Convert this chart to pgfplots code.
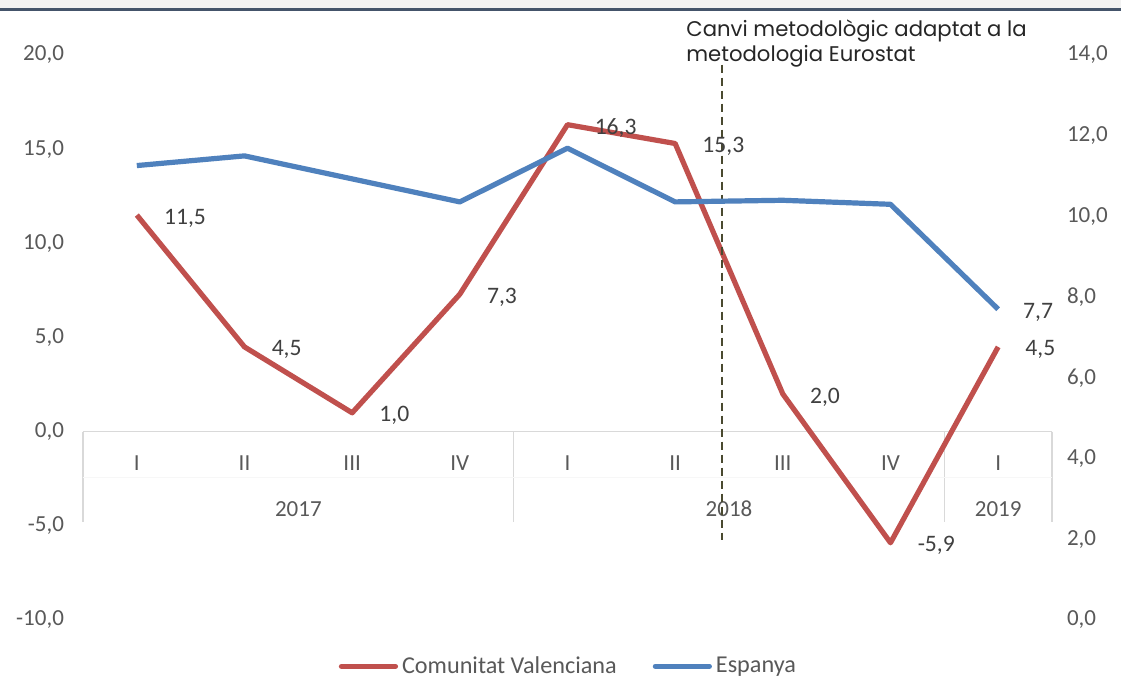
\documentclass[border=0pt]{standalone}
\usepackage{pgfplots}
\pgfplotsset{compat=1.18}
\usepackage{fontspec}
\setmainfont{Carlito}
\newfontfamily\annfont{Poppins}
\definecolor{cvred}{HTML}{C0504D}
\definecolor{esblue}{HTML}{4F81BD}
\definecolor{tickgray}{HTML}{595959}
\definecolor{sepgray}{HTML}{D9D9D9}
\definecolor{dashcol}{HTML}{4A4A30}
\definecolor{topline}{HTML}{44546A}
\begin{document}
\begin{tikzpicture}
\useasboundingbox (0,0) rectangle (560.5pt,340pt);
\fill[white] (0,0) rectangle (560.5pt,340pt);
\fill[gray!10] (0,335pt) rectangle (560.5pt,340pt);
\draw[topline, line width=1.5pt] (0,335pt) -- (560.5pt,335pt);
% Left axis: Comunitat Valenciana
\begin{axis}[
  at={(41.5pt,30pt)}, anchor=south west,
  scale only axis, width=484.5pt, height=282.5pt,
  xmin=-0.5, xmax=8.5, ymin=-10, ymax=20,
  ytick={-10,-5,0,5,10,15,20},
  xtick=\empty,
  axis line style={draw=none},
  major tick length=0pt,
  clip=false,
  tick label style={font=\fontsize{11.5}{13}\selectfont, text=tickgray},
  yticklabel style={xshift=-6pt},
  /pgf/number format/.cd, fixed, fixed zerofill, precision=1, use comma, assume math mode=true,
  /pgfplots/.cd,
  legend style={at={(0.502,-0.082)}, anchor=center, draw=none, fill=none,
    legend columns=2, font=\fontsize{12.1}{13}\selectfont, text=tickgray,
    /tikz/every even column/.append style={column sep=16pt},
    inner sep=0pt},
  legend image code/.code={\draw[#1, line cap=round] (0pt,0pt) -- (27pt,0pt);},
]
% category axis and separators
\draw[sepgray, line width=0.8pt] (axis cs:-0.5,0) -- (axis cs:8.5,0);
\draw[sepgray, line width=0.8pt] (axis cs:-0.5,0) -- (axis cs:-0.5,-4.78);
\draw[sepgray, line width=0.8pt] (axis cs:3.5,0) -- (axis cs:3.5,-4.78);
\draw[sepgray, line width=0.8pt] (axis cs:7.5,0) -- (axis cs:7.5,-4.78);
\draw[sepgray, line width=0.8pt] (axis cs:8.5,0) -- (axis cs:8.5,-4.78);
\draw[gray!6, line width=0.5pt] (axis cs:-0.5,-2.45) -- (axis cs:8.5,-2.45);
% quarter labels
\pgfplotsinvokeforeach{0,4,8}{
  \node[font=\fontsize{11.5}{13}\selectfont, text=tickgray] at (axis cs:#1,-1.65) {I};
}
\pgfplotsinvokeforeach{1,5}{
  \node[font=\fontsize{11.5}{13}\selectfont, text=tickgray] at (axis cs:#1,-1.65) {II};
}
\pgfplotsinvokeforeach{2,6}{
  \node[font=\fontsize{11.5}{13}\selectfont, text=tickgray] at (axis cs:#1,-1.65) {III};
}
\pgfplotsinvokeforeach{3,7}{
  \node[font=\fontsize{11.5}{13}\selectfont, text=tickgray] at (axis cs:#1,-1.65) {IV};
}
\node[font=\fontsize{11.5}{13}\selectfont, text=tickgray] at (axis cs:1.5,-4.09) {2017};
\node[font=\fontsize{11.5}{13}\selectfont, text=tickgray] at (axis cs:5.5,-4.09) {2018};
\node[font=\fontsize{11.5}{13}\selectfont, text=tickgray] at (axis cs:8,-4.09) {2019};
\addplot[cvred, line width=2.6pt, line join=round, mark=none,
  nodes near coords={\pgfmathprintnumber[fixed, fixed zerofill, precision=1, use comma, assume math mode=true]{\pgfplotspointmeta}},
  nodes near coords style={anchor=west, xshift=9pt, yshift=-1.5pt, text=black!75, font=\fontsize{11.8}{13}\selectfont},
] coordinates {
  (0,11.5) (1,4.5) (2,1.0) (3,7.3) (4,16.3) (5,15.3) (6,2.0) (7,-5.9) (8,4.5)
};
\addlegendentry{Comunitat Valenciana}
\addlegendimage{esblue, line width=2.6pt}
\addlegendentry{Espanya}
% methodology change line
\draw[dashcol, line width=0.9pt, dash pattern=on 4pt off 2.5pt] (axis cs:5.435,19.49) -- (axis cs:5.435,-5.74);
\end{axis}
% Right axis: Espanya
\begin{axis}[
  at={(41.5pt,30pt)}, anchor=south west,
  scale only axis, width=484.5pt, height=282.5pt,
  xmin=-0.5, xmax=8.5, ymin=0, ymax=14,
  ytick={0,2,4,6,8,10,12,14},
  xtick=\empty,
  axis y line*=right, axis x line=none,
  axis line style={draw=none},
  major tick length=0pt,
  clip=false,
  tick label style={font=\fontsize{11.5}{13}\selectfont, text=tickgray},
  yticklabel style={xshift=4pt},
  /pgf/number format/.cd, fixed, fixed zerofill, precision=1, use comma, assume math mode=true,
  /pgfplots/.cd,
]
\addplot[esblue, line width=2.6pt, line join=round, mark=none] coordinates {
  (0,11.26) (1,11.50) (2,10.93) (3,10.36) (4,11.69) (5,10.36) (6,10.40) (7,10.30) (8,7.7)
};
\addplot[draw=none, mark=none,
  nodes near coords={7,7},
  nodes near coords style={anchor=west, xshift=9pt, yshift=-1.5pt, text=black!75, font=\fontsize{11.8}{13}\selectfont},
] coordinates {(8,7.7)};
\end{axis}
\node[anchor=north west, align=left, font=\annfont\fontsize{10.6}{12.5}\selectfont, text=black!85, inner sep=0pt] at (343pt,330.5pt) {Canvi metodològic adaptat a la\\metodologia Eurostat};
\end{tikzpicture}
\end{document}
